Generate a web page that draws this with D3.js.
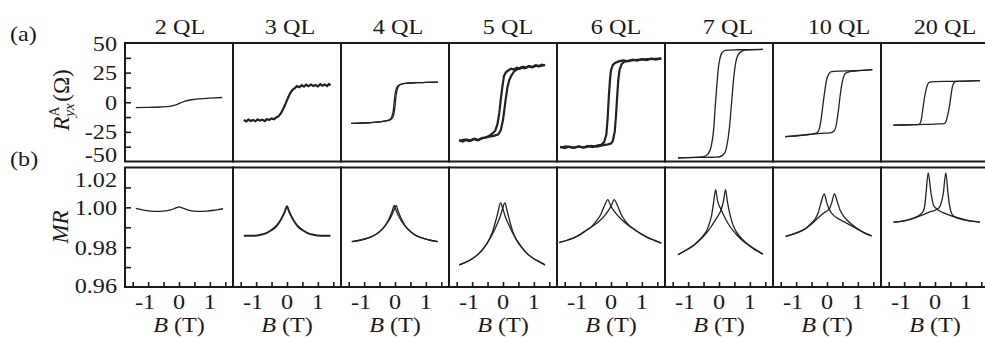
<!DOCTYPE html>
<html>
<head>
<meta charset="utf-8">
<script src="https://cdn.jsdelivr.net/npm/d3@7"></script>
<style>
  body { margin: 0; background: #fff; }
  text { font-family: 'Liberation Serif', 'Times New Roman', serif; fill: #1a1a1a; }
</style>
</head>
<body>
<div id="chart"></div>
<script>
// film thickness (one column each)
var thickness = ['2 QL', '3 QL', '4 QL', '5 QL', '6 QL', '7 QL', '10 QL', '20 QL'];
var hallTicks = [50, 25, 0, -25, -50];
var mrTicks = [1.02, 1.00, 0.98, 0.96];
var fieldTicks = [-1, 0, 1];
var noisy = ['3 QL', '5 QL', '6 QL'];

// (a) anomalous Hall resistance, [B (T), R (Ohm)], one array per sweep branch
var hall2 = [
  [[-1.4,-4.5],[-1.0,-4.4],[-0.6,-4.0],[-0.3,-3.4],[-0.1,-2.2],[0.05,-0.6],[0.2,0.9],[0.4,2.1],[0.7,2.9],[1.0,3.4],[1.4,4.0]]
];
var hall3 = [
  [[-1.4,-15.0],[-1.32,-16.2],[-1.25,-14.6],[-1.18,-15.8],[-1.1,-14.9],[-1.02,-16.0],[-0.95,-14.4],[-0.88,-15.5],[-0.8,-14.8],[-0.72,-15.9],[-0.65,-14.2],[-0.58,-15.0],[-0.5,-13.6],[-0.42,-14.4],[-0.35,-12.8],[-0.28,-12.0],[-0.2,-9.5],[-0.12,-5.5],[-0.05,-1.5],[0.02,3.0],[0.1,7.5],[0.18,10.5],[0.25,11.8],[0.32,13.6],[0.4,12.7],[0.48,14.5],[0.55,13.2],[0.62,14.8],[0.7,13.5],[0.78,15.0],[0.85,13.8],[0.92,14.6],[1.0,13.4],[1.08,15.2],[1.15,14.0],[1.22,14.9],[1.3,13.7],[1.36,15.4],[1.41,14.3]]
];
var hall4 = [
  [[-1.42,-17.8],[-1.0,-17.5],[-0.6,-16.8],[-0.35,-16.0],[-0.18,-14.8],[-0.1,-12.0],[-0.05,-6.0],[-0.02,2.0],[0.02,9.5],[0.08,13.5],[0.18,15.2],[0.35,16.0],[0.7,16.5],[1.0,16.7],[1.39,17.0]],
  [[-1.42,-17.8],[-1.0,-17.5],[-0.6,-16.8],[-0.35,-16.0],[-0.15,-14.8],[-0.06,-12.0],[-0.01,-6.0],[0.02,2.0],[0.06,9.5],[0.12,13.5],[0.2,15.2],[0.35,16.0],[0.7,16.5],[1.0,16.7],[1.39,17.0]]
];
var hall5 = [
  [[-1.42,-32.0],[-1.3,-33.2],[-1.18,-31.4],[-1.05,-32.6],[-0.92,-30.8],[-0.8,-31.9],[-0.68,-30.2],[-0.56,-29.5],[-0.45,-28.4],[-0.35,-26.5],[-0.25,-24.0],[-0.18,-18.5],[-0.12,-9.0],[-0.07,3.0],[-0.02,13.0],[0.03,22.0],[0.1,25.5],[0.18,27.0],[0.26,28.4],[0.35,27.6],[0.45,29.2],[0.55,28.3],[0.65,30.0],[0.75,29.1],[0.85,30.6],[0.95,29.8],[1.05,31.2],[1.15,30.2],[1.25,31.8],[1.36,31.0]],
  [[-1.42,-32.6],[-1.25,-31.5],[-1.1,-32.8],[-0.95,-31.0],[-0.82,-32.2],[-0.7,-30.6],[-0.58,-30.0],[-0.45,-29.0],[-0.3,-28.4],[-0.15,-27.0],[-0.07,-23.5],[0.0,-15.0],[0.04,-7.0],[0.09,3.0],[0.14,12.0],[0.2,18.5],[0.27,22.5],[0.36,26.0],[0.46,27.8],[0.58,29.4],[0.7,28.6],[0.82,30.2],[0.95,29.4],[1.1,31.0],[1.22,30.4],[1.36,31.6]]
];
var hall6 = [
  [[-1.65,-37.6],[-1.5,-38.6],[-1.35,-37.4],[-1.2,-38.5],[-1.05,-37.2],[-0.9,-38.2],[-0.75,-36.9],[-0.6,-37.8],[-0.45,-36.5],[-0.32,-36.0],[-0.22,-33.5],[-0.15,-27.0],[-0.11,-14.0],[-0.07,5.0],[-0.03,20.0],[0.0,27.0],[0.06,31.5],[0.13,33.2],[0.25,34.5],[0.4,35.3],[0.55,34.6],[0.7,35.9],[0.85,35.2],[1.0,36.3],[1.15,35.6],[1.3,36.8],[1.45,36.0],[1.63,37.0]],
  [[-1.65,-38.2],[-1.45,-37.3],[-1.25,-38.4],[-1.05,-37.5],[-0.85,-38.0],[-0.65,-36.8],[-0.45,-37.4],[-0.25,-36.2],[-0.1,-35.5],[0.0,-34.8],[0.06,-32.5],[0.12,-25.0],[0.16,-12.4],[0.2,5.0],[0.24,20.0],[0.28,27.5],[0.34,32.0],[0.42,34.0],[0.55,35.0],[0.75,35.5],[0.95,36.0],[1.2,36.4],[1.4,36.6],[1.63,36.8]]
];
var hall7 = [
  [[-1.33,-46.9],[-0.8,-46.6],[-0.5,-46.0],[-0.35,-43.5],[-0.25,-37.0],[-0.17,-22.0],[-0.12,-3.0],[-0.07,14.0],[-0.03,27.0],[0.03,37.0],[0.12,42.5],[0.25,44.0],[0.6,44.3],[1.42,44.6]],
  [[-1.33,-46.9],[-0.6,-46.6],[-0.2,-46.4],[0.0,-46.2],[0.18,-43.0],[0.26,-36.0],[0.34,-21.0],[0.4,-3.0],[0.45,13.0],[0.51,28.0],[0.58,37.5],[0.7,42.5],[0.85,44.0],[1.42,44.6]]
];
var hall10 = [
  [[-1.36,-29.0],[-1.0,-28.5],[-0.6,-27.2],[-0.4,-26.5],[-0.28,-24.5],[-0.2,-16.0],[-0.14,-4.0],[-0.08,8.0],[-0.02,18.0],[0.06,24.0],[0.15,25.8],[0.4,26.3],[0.9,26.6],[1.47,27.5]],
  [[-1.36,-29.0],[-0.6,-27.2],[-0.2,-26.2],[0.1,-25.8],[0.22,-24.5],[0.3,-19.0],[0.36,-9.0],[0.41,2.0],[0.46,12.0],[0.52,20.0],[0.6,24.5],[0.75,25.9],[0.9,26.3],[1.47,27.5]]
];
var hall20 = [
  [[-1.35,-19.3],[-0.8,-19.0],[-0.55,-18.7],[-0.5,-18.3],[-0.44,-14.0],[-0.39,-5.0],[-0.34,4.0],[-0.29,10.5],[-0.24,15.0],[-0.17,17.0],[0.0,17.4],[0.5,17.6],[1.0,17.9],[1.46,18.3]],
  [[-1.35,-19.3],[-0.5,-18.8],[0.0,-18.4],[0.3,-18.0],[0.34,-17.0],[0.42,-10.0],[0.47,-3.0],[0.52,6.0],[0.56,12.5],[0.62,16.5],[0.7,17.6],[1.0,17.9],[1.46,18.3]]
];

// (b) magnetoresistance, [B (T), MR]
var mr2 = [
  [[-1.4,0.9995],[-1.1,0.9985],[-0.8,0.9980],[-0.5,0.9981],[-0.25,0.9988],[-0.1,0.9997],[0.0,1.0002],[0.12,0.9996],[0.3,0.9986],[0.6,0.9980],[0.9,0.9981],[1.2,0.9987],[1.43,0.9993]]
];
var mr3 = [
  [[-1.4,0.9857],[-1.1,0.9857],[-0.85,0.9862],[-0.65,0.9872],[-0.5,0.9886],[-0.35,0.9905],[-0.25,0.9925],[-0.15,0.9952],[-0.07,0.9978],[0.0,1.0006],[0.07,0.9978],[0.15,0.9952],[0.25,0.9925],[0.35,0.9905],[0.5,0.9886],[0.65,0.9872],[0.85,0.9862],[1.1,0.9857],[1.41,0.9857]]
];
var mr4 = [
  [[-1.4,0.9828],[-1.1,0.9836],[-0.8,0.9850],[-0.6,0.9866],[-0.45,0.9885],[-0.3,0.9912],[-0.18,0.9948],[-0.09,0.9982],[-0.03,1.0010],[0.03,0.9988],[0.12,0.9955],[0.25,0.9922],[0.4,0.9893],[0.6,0.9866],[0.8,0.9850],[1.1,0.9836],[1.39,0.9828]],
  [[-1.4,0.9828],[-1.1,0.9836],[-0.8,0.9850],[-0.6,0.9866],[-0.4,0.9893],[-0.25,0.9922],[-0.12,0.9955],[-0.03,0.9988],[0.04,1.0010],[0.1,0.9982],[0.19,0.9948],[0.31,0.9912],[0.46,0.9885],[0.6,0.9866],[0.8,0.9850],[1.1,0.9836],[1.39,0.9828]]
];
var mr5 = [
  [[-1.42,0.9711],[-1.2,0.9725],[-1.0,0.9742],[-0.8,0.9765],[-0.6,0.9800],[-0.45,0.9838],[-0.33,0.9882],[-0.24,0.9930],[-0.16,0.9978],[-0.08,1.0022],[0.0,0.9990],[0.08,0.9950],[0.18,0.9915],[0.3,0.9875],[0.45,0.9835],[0.6,0.9800],[0.8,0.9765],[1.0,0.9742],[1.2,0.9725],[1.36,0.9711]],
  [[-1.42,0.9711],[-1.2,0.9725],[-1.0,0.9742],[-0.8,0.9765],[-0.6,0.9800],[-0.45,0.9836],[-0.32,0.9873],[-0.2,0.9913],[-0.1,0.9950],[-0.02,0.9990],[0.06,1.0022],[0.14,0.9978],[0.22,0.9930],[0.31,0.9882],[0.43,0.9838],[0.6,0.9800],[0.8,0.9765],[1.0,0.9742],[1.2,0.9725],[1.36,0.9711]]
];
var mr6 = [
  [[-1.68,0.9823],[-1.4,0.9836],[-1.2,0.9846],[-1.0,0.9862],[-0.77,0.9887],[-0.6,0.9908],[-0.44,0.9938],[-0.32,0.9968],[-0.22,1.0005],[-0.1,1.0039],[-0.02,1.0012],[0.06,0.9990],[0.2,0.9962],[0.4,0.9930],[0.6,0.9905],[0.8,0.9884],[1.0,0.9865],[1.2,0.9848],[1.4,0.9835],[1.63,0.9820]],
  [[-1.68,0.9823],[-1.4,0.9836],[-1.2,0.9848],[-1.0,0.9865],[-0.8,0.9885],[-0.6,0.9905],[-0.4,0.9928],[-0.2,0.9960],[-0.06,0.9990],[0.02,1.0012],[0.1,1.0039],[0.22,1.0005],[0.32,0.9968],[0.44,0.9936],[0.6,0.9908],[0.8,0.9885],[1.0,0.9864],[1.2,0.9847],[1.4,0.9834],[1.63,0.9820]]
];
var mr7 = [
  [[-1.33,0.9762],[-1.1,0.9782],[-0.95,0.9797],[-0.78,0.9815],[-0.63,0.9837],[-0.5,0.9860],[-0.4,0.9882],[-0.3,0.9925],[-0.24,0.9960],[-0.17,1.0030],[-0.11,1.0089],[-0.05,1.0035],[0.07,0.9988],[0.2,0.9945],[0.35,0.9905],[0.55,0.9866],[0.75,0.9835],[1.0,0.9805],[1.2,0.9783],[1.42,0.9765]],
  [[-1.33,0.9762],[-1.1,0.9782],[-0.9,0.9800],[-0.7,0.9825],[-0.5,0.9855],[-0.35,0.9882],[-0.25,0.9904],[-0.1,0.9940],[0.0,0.9965],[0.07,0.9988],[0.15,1.0035],[0.21,1.0089],[0.27,1.0030],[0.34,0.9975],[0.4,0.9938],[0.5,0.9895],[0.66,0.9856],[0.85,0.9826],[1.04,0.9803],[1.25,0.9782],[1.42,0.9765]]
];
var mr10 = [
  [[-1.34,0.9854],[-1.1,0.9866],[-0.9,0.9877],[-0.7,0.9892],[-0.5,0.9922],[-0.38,0.9942],[-0.28,0.9975],[-0.2,1.0020],[-0.09,1.0067],[-0.01,1.0025],[0.07,0.9990],[0.2,0.9962],[0.4,0.9940],[0.64,0.9920],[0.96,0.9893],[1.2,0.9872],[1.45,0.9857]],
  [[-1.34,0.9854],[-1.1,0.9866],[-0.8,0.9884],[-0.5,0.9916],[-0.38,0.9934],[-0.23,0.9955],[-0.1,0.9972],[0.0,0.9982],[0.07,0.9990],[0.15,1.0022],[0.24,1.0067],[0.33,1.0030],[0.42,0.9988],[0.52,0.9960],[0.64,0.9938],[0.8,0.9915],[0.96,0.9896],[1.2,0.9873],[1.45,0.9857]]
];
var mr20 = [
  [[-1.35,0.9926],[-1.0,0.9932],[-0.7,0.9946],[-0.5,0.9962],[-0.38,0.9982],[-0.33,1.0010],[-0.29,1.0072],[-0.22,1.0173],[-0.13,1.0072],[-0.05,1.0012],[0.07,0.9990],[0.2,0.9978],[0.45,0.9962],[0.75,0.9945],[1.1,0.9932],[1.46,0.9926]],
  [[-1.35,0.9926],[-1.0,0.9932],[-0.7,0.9945],[-0.4,0.9962],[-0.15,0.9978],[0.07,0.9990],[0.17,1.0008],[0.23,1.0040],[0.27,1.0072],[0.35,1.0173],[0.42,1.0072],[0.47,1.0010],[0.59,0.9958],[0.8,0.9946],[1.1,0.9933],[1.46,0.9926]]
];

var hallCurves = [hall2, hall3, hall4, hall5, hall6, hall7, hall10, hall20];
var mrCurves = [mr2, mr3, mr4, mr5, mr6, mr7, mr10, mr20];

var width = 985, height = 337;
var ink = '#1a1a1a';
var titleShift = [1, 3, 3, 5, 5, 9, 12, 10];

var svg = d3.select('#chart').append('svg')
  .attr('width', width)
  .attr('height', height)
  .style('background', '#fff');

// one band per film, the last one runs off the right edge
var px = d3.scaleBand().domain(thickness).range([125, 989]);
var yA = d3.scaleLinear().domain([-50, 50]).range([161.5, 43]);
var yB = d3.scaleLinear().domain([0.96, 1.02]).range([287, 167.5]);

function label(sel, x, y, str, size, anchor) {
  return sel.append('text')
    .attr('transform', 'translate(' + x + ',' + y + ') scale(1.1,1)')
    .attr('text-anchor', anchor || 'middle')
    .style('font-size', (size || 22) + 'px')
    .text(str);
}

thickness.forEach(function(name, i) {
  var x0 = px(name), bw = px.bandwidth();
  var xs = d3.scaleLinear().domain([-1.75, 1.75]).range([x0, x0 + bw]);
  var rough = noisy.indexOf(name) >= 0;
  var g = svg.append('g');

  var lineA = d3.line()
    .x(function(d) { return xs(d[0]); })
    .y(function(d) { return yA(d[1]); })
    .curve(rough ? d3.curveLinear : d3.curveMonotoneX);
  var lineB = d3.line()
    .x(function(d) { return xs(d[0]); })
    .y(function(d) { return yB(d[1]); })
    .curve(d3.curveMonotoneX);

  g.selectAll('.hall').data(hallCurves[i]).enter().append('path')
    .attr('d', lineA)
    .style('fill', 'none')
    .style('stroke', '#222')
    .style('stroke-width', rough ? 2.2 : 1.3);

  g.selectAll('.mr').data(mrCurves[i]).enter().append('path')
    .attr('d', lineB)
    .style('fill', 'none')
    .style('stroke', '#222')
    .style('stroke-width', name == '3 QL' ? 2 : 1.3);

  // frames
  g.append('rect').attr('x', x0).attr('y', yA(50)).attr('width', bw).attr('height', yA(-50) - yA(50))
    .style('fill', 'none').style('stroke', ink).style('stroke-width', 2);
  g.append('rect').attr('x', x0).attr('y', yB(1.02)).attr('width', bw).attr('height', yB(0.96) - yB(1.02))
    .style('fill', 'none').style('stroke', ink).style('stroke-width', 2);

  // inward ticks along the bottom of (b)
  var bt = g.append('g')
    .attr('transform', 'translate(0,' + yB(0.96) + ')')
    .call(d3.axisTop(xs).tickValues([-1.5, -1, -0.5, 0, 0.5, 1, 1.5]).tickSize(5).tickFormat(''));
  bt.select('.domain').remove();
  bt.selectAll('line').style('stroke', ink).style('stroke-width', 1.6);

  fieldTicks.forEach(function(v) {
    label(g, xs(v) + (v < 0 ? -3 : 0), 308.5, v < 0 ? '-' + Math.abs(v) : String(v));
  });

  var bl = g.append('text')
    .attr('transform', 'translate(' + (x0 + bw / 2) + ',331.5) scale(1.1,1)')
    .attr('text-anchor', 'middle')
    .style('font-size', '22px');
  bl.append('tspan').style('font-style', 'italic').text('B');
  bl.append('tspan').text(' (T)');

  label(g, x0 + bw / 2 + titleShift[i], 33.5, name, 22);
});

// left axes, first column only
var left = px(thickness[0]);
var ta = svg.append('g').attr('transform', 'translate(' + left + ',0)')
  .call(d3.axisRight(yA).tickValues([-37.5, -25, -12.5, 0, 12.5, 25, 37.5]).tickSize(6).tickFormat(''));
ta.select('.domain').remove();
ta.selectAll('line').style('stroke', ink).style('stroke-width', 1.6);
var tb = svg.append('g').attr('transform', 'translate(' + left + ',0)')
  .call(d3.axisRight(yB).tickValues([0.97, 0.98, 0.99, 1.00, 1.01]).tickSize(6).tickFormat(''));
tb.select('.domain').remove();
tb.selectAll('line').style('stroke', ink).style('stroke-width', 1.6);

var hallNudge = [0, 0, 0, 0, -7];
hallTicks.forEach(function(v, k) {
  label(svg, 117, yA(v) + 7.5 + hallNudge[k], v < 0 ? '-' + Math.abs(v) : String(v), 22, 'end');
});
var mrNudge = [12, 0, 0, -1.5];
var fmt = d3.format('.2f');
mrTicks.forEach(function(v, k) {
  label(svg, 117, yB(v) + 7.5 + mrNudge[k], fmt(v), 22, 'end');
});

// panel letters
label(svg, 10, 41, '(a)', 22, 'start');
label(svg, 10, 166, '(b)', 22, 'start');

// rotated axis titles
var ra = svg.append('text')
  .attr('transform', 'translate(69,100) rotate(-90)')
  .attr('text-anchor', 'middle')
  .style('font-size', '23px');
ra.append('tspan').style('font-style', 'italic').text('R');
ra.append('tspan').style('font-style', 'italic').style('font-size', '15px').attr('dy', 5).text('yx');
ra.append('tspan').style('font-size', '14px').attr('dx', -13).attr('dy', -15).text('A');
ra.append('tspan').attr('dy', 10).text('\u2009(\u03A9)');

svg.append('text')
  .attr('transform', 'translate(68,227) rotate(-90)')
  .attr('text-anchor', 'middle')
  .style('font-size', '23px')
  .style('font-style', 'italic')
  .text('MR');
</script>
</body>
</html>
